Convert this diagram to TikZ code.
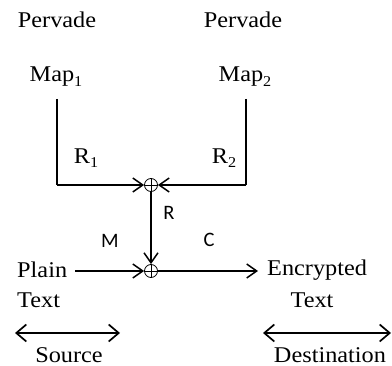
\documentclass[tikz,border=0pt]{standalone}
\usepackage{fontspec}
\setmainfont{Liberation Serif}[FakeStretch=1.08]
\newfontfamily\labelfont{Carlito}
\usetikzlibrary{arrows.meta}
\newcommand{\subdig}[1]{\raisebox{-0.18em}{\fontsize{15}{15}\selectfont #1}}
\tikzset{
  txt/.style={inner sep=0pt, font=\fontsize{22.5}{26}\selectfont},
  lab/.style={inner sep=0pt, font=\labelfont\fontsize{20.5}{24}\selectfont},
  xor/.style={circle, draw, line width=0.8pt, minimum size=13pt, inner sep=0pt,
    path picture={\draw[line width=0.7pt]
      (path picture bounding box.north) -- (path picture bounding box.south)
      (path picture bounding box.west) -- (path picture bounding box.east);}},
  flow/.style={line width=1.5pt, -{Straight Barb[length=10pt,width=14pt,line width=1.5pt]}},
  wire/.style={line width=1.5pt},
  span/.style={line width=1.7pt, {Straight Barb[length=10pt,width=17pt,line width=1.7pt]}-{Straight Barb[length=10pt,width=17pt,line width=1.7pt]}}
}
\begin{document}
\begin{tikzpicture}[x=1pt,y=-1pt]
\useasboundingbox (0,0) rectangle (392,366);

% map sources
\node[txt] (p1) at (57,20) {Pervade};
\node[txt] (p2) at (243,20) {Pervade};
\node[txt] (m1) at (56,77) {Map\subdig{1}};
\node[txt] (m2) at (245,77) {Map\subdig{2}};

% combiners
\node[xor] (x1) at (151,185) {};
\node[xor] (x2) at (151,271) {};

\coordinate (t1) at (57,99);
\coordinate (t2) at (246,99);
\draw[wire] (t1) -- (57,185);
\draw[flow] (57,185) -- (x1.west);
\draw[wire] (t2) -- (246,185);
\draw[flow] (246,185) -- (x1.east);
\draw[flow] (x1.south) -- (x2.north);

\node[txt] (r1) at (86,158) {R\subdig{1}};
\node[txt] (r2) at (224,158) {R\subdig{2}};
\node[lab] (r) at (169,213) {R};
\node[lab] (m) at (110,241) {M};
\node[lab] (c) at (209,240) {C};

% plain text in, cipher text out
\node[txt, anchor=west] (plain) at (17,270) {Plain};
\node[txt, anchor=west] (ptext) at (17,300) {Text};
\node[txt, anchor=west] (enc) at (267,270) {Encrypted};
\node[txt] (etext) at (312,300) {Text};
\coordinate (pout) at (75,271);
\coordinate (ein) at (258,271);
\draw[flow] (pout) -- (x2.west);
\draw[flow] (x2.east) -- (ein);

% source / destination spans
\coordinate (s1) at (15,333);
\coordinate (s2) at (120,333);
\coordinate (d1) at (263,333);
\coordinate (d2) at (391,333);
\draw[span] (s1) -- (s2);
\draw[span] (d1) -- (d2);
\node[txt] (src) at (69,355) {Source};
\node[txt] (dst) at (330,355) {Destination};
\end{tikzpicture}
\end{document}
